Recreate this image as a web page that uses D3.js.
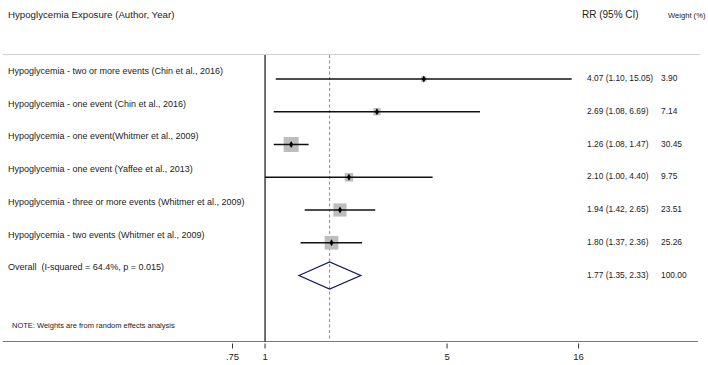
<!DOCTYPE html>
<html>
<head>
	<meta charset="utf-8">
	<title>Forest plot</title>
	<style>
		body { margin: 0; background: #fff; }
		svg { display: block; font-family: "Liberation Sans", Arial, sans-serif; }
		text { white-space: pre; }
	</style>
</head>
<body>
	<svg width="708" height="365"></svg>
<script src="https://cdn.jsdelivr.net/npm/d3@7"></script>
<script>
	// data
	let studies = ["Hypoglycemia - two or more events (Chin et al., 2016)",
		"Hypoglycemia - one event (Chin et al., 2016)",
		"Hypoglycemia - one event(Whitmer et al., 2009)",
		"Hypoglycemia - one event (Yaffee et al., 2013)",
		"Hypoglycemia - three or more events (Whitmer et al., 2009)",
		"Hypoglycemia - two events (Whitmer et al., 2009)"]
	let rr     = [4.07, 2.69, 1.26, 2.10, 1.94, 1.80]
	let lower  = [1.10, 1.08, 1.08, 1.00, 1.42, 1.37]
	let upper  = [15.05, 6.69, 1.47, 4.40, 2.65, 2.36]
	let weight = ["3.90", "7.14", "30.45", "9.75", "23.51", "25.26"]
	let overall = { label: "Overall  (I-squared = 64.4%, p = 0.015)", rr: 1.77, lo: 1.35, hi: 2.33, w: "100.00" }
	let ticks = [0.75, 1, 5, 16]
	let tickLabels = [".75", "1", "5", "16"]

	let svg = d3.select("svg")
	let fmt = d3.format(".2f")

	// scales
	let x = d3.scaleLog().domain([0.75, 16]).range([232.5, 578.6])
	let y = d3.scalePoint().domain(d3.range(studies.length + 1)).range([79, 275.5])
	let box = d3.scaleSqrt().domain([0, 30.45]).range([0, 15])

	let rows = studies.map((s, i) => ({ i: i, label: s, rr: rr[i], lo: lower[i], hi: upper[i], w: weight[i] }))

	// header
	svg.append("text").attr("x", 8).attr("y", 15).attr("dominant-baseline", "middle")
		.attr("font-size", 9.7).attr("fill", "#222").text("Hypoglycemia Exposure (Author, Year)")
	svg.append("text").attr("x", 582).attr("y", 15).attr("dominant-baseline", "middle")
		.attr("font-size", 10).attr("fill", "#222").text("RR (95% CI)")
	svg.append("text").attr("x", 668).attr("y", 16).attr("dominant-baseline", "middle")
		.attr("font-size", 7.6).attr("fill", "#222").text("Weight (%)")
	svg.append("line").attr("x1", 3).attr("x2", 700).attr("y1", 54.5).attr("y2", 54.5)
		.attr("stroke", "#d0d0d0").attr("stroke-width", 1)

	// axis
	let axisY = 341.5
	let ax = svg.append("g").attr("transform", "translate(0," + axisY + ")")
	ax.append("line").attr("x1", 3).attr("x2", 698).attr("stroke", "#777").attr("stroke-width", 1.2)
	ax.selectAll("line.tick").data(ticks).enter().append("line").attr("class", "tick")
		.attr("x1", d => x(d)).attr("x2", d => x(d)).attr("y1", 2).attr("y2", 7)
		.attr("stroke", "#333")
	ax.selectAll("text").data(ticks).enter().append("text")
		.attr("x", d => x(d)).attr("y", 16).attr("text-anchor", "middle").attr("dominant-baseline", "middle")
		.attr("font-size", 9.5).attr("fill", "#222").text((d, i) => tickLabels[i])

	// reference lines
	svg.append("line").attr("x1", x(1)).attr("x2", x(1)).attr("y1", 55).attr("y2", axisY)
		.attr("stroke", "#111").attr("stroke-width", 1.2)
	svg.append("line").attr("x1", x(overall.rr)).attr("x2", x(overall.rr)).attr("y1", 55).attr("y2", axisY)
		.attr("stroke", "#888").attr("stroke-width", 1).attr("stroke-dasharray", "3,2.5")

	// study rows
	let g = svg.selectAll("g.row").data(rows).enter().append("g").attr("class", "row")
	g.append("rect")
		.attr("x", d => x(d.rr) - box(+d.w) / 2).attr("y", d => y(d.i) - box(+d.w) / 2)
		.attr("width", d => box(+d.w)).attr("height", d => box(+d.w))
		.attr("fill", "#bdbdbd")
	g.append("line").attr("x1", d => x(d.lo)).attr("x2", d => x(d.hi))
		.attr("y1", d => y(d.i)).attr("y2", d => y(d.i))
		.attr("stroke", "#111").attr("stroke-width", 1.3)
	g.append("path").attr("d", d3.symbol(d3.symbolDiamond, 14))
		.attr("transform", d => "translate(" + x(d.rr) + "," + y(d.i) + ")")
		.attr("fill", "#000")
	g.append("text").attr("x", 8).attr("y", d => y(d.i) - 7.5).attr("dominant-baseline", "middle")
		.attr("font-size", 9).attr("fill", "#222").text(d => d.label)
	g.append("text").attr("x", 587).attr("y", d => y(d.i)).attr("dominant-baseline", "middle")
		.attr("font-size", 8.4).attr("fill", "#222")
		.text(d => fmt(d.rr) + " (" + fmt(d.lo) + ", " + fmt(d.hi) + ")")
	g.append("text").attr("x", 661).attr("y", d => y(d.i)).attr("dominant-baseline", "middle")
		.attr("font-size", 8.4).attr("fill", "#222").text(d => d.w)

	// overall diamond
	let oy = y(studies.length)
	svg.append("path")
		.attr("d", "M" + x(overall.lo) + "," + oy + "L" + x(overall.rr) + "," + (oy - 13.5)
			+ "L" + x(overall.hi) + "," + oy + "L" + x(overall.rr) + "," + (oy + 13.5) + "Z")
		.attr("fill", "none").attr("stroke", "#1b1b5a").attr("stroke-width", 1.3)
	svg.append("text").attr("x", 8).attr("y", oy - 8).attr("dominant-baseline", "middle")
		.attr("font-size", 9).attr("fill", "#222").text(overall.label)
	svg.append("text").attr("x", 587).attr("y", oy).attr("dominant-baseline", "middle")
		.attr("font-size", 8.4).attr("fill", "#222")
		.text(fmt(overall.rr) + " (" + fmt(overall.lo) + ", " + fmt(overall.hi) + ")")
	svg.append("text").attr("x", 661).attr("y", oy).attr("dominant-baseline", "middle")
		.attr("font-size", 8.4).attr("fill", "#222").text(overall.w)

	// note
	svg.append("text").attr("x", 12).attr("y", 326).attr("dominant-baseline", "middle")
		.attr("font-size", 7.5).attr("fill", "#222").text("NOTE: Weights are from random effects analysis")
</script>
</body>
</html>
